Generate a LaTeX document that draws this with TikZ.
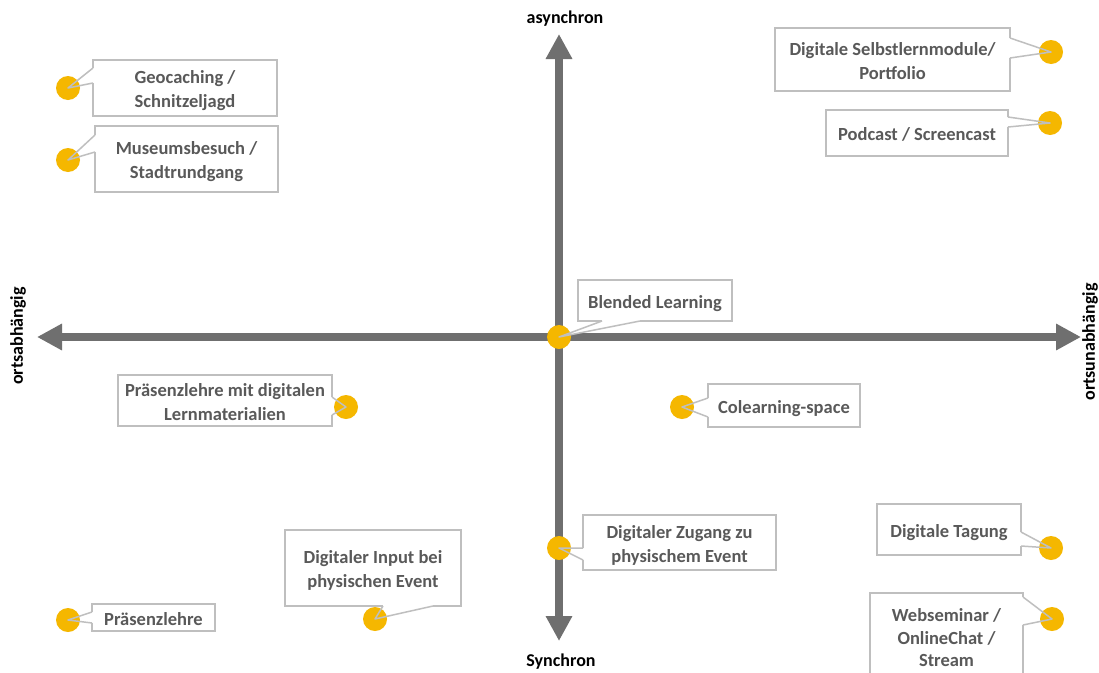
\documentclass[tikz,border=0pt]{standalone}
\usepackage{fontspec}
\setmainfont{Carlito}
\usetikzlibrary{arrows.meta,calc}
\definecolor{dotyellow}{HTML}{F5B700}
\definecolor{txtgray}{HTML}{595959}
\definecolor{bordergray}{HTML}{BFBFBF}
\definecolor{axisgray}{HTML}{6F6F6F}
\newcommand\calloutfill[3]{%
  \fill[white] (#1) -- (#3.center) -- (#2) -- cycle;
  \draw[white,line width=2.2pt] (#1) -- (#2);}
\newcommand\calloutlines[3]{%
  \draw[callline] (#1) -- (#3.center) -- (#2);}
\newcommand\bt[1]{\raisebox{-3pt}[\height][\depth]{\begin{tabular}{@{}c@{}}#1\end{tabular}}}
\begin{document}
\begin{tikzpicture}[x=1pt,y=-1pt,
  box/.style={draw=bordergray,line width=1.5pt,fill=white,inner sep=0pt,outer sep=0pt,
    align=center,text=txtgray,font=\bfseries\fontsize{18.5}{24}\selectfont},
  callline/.style={draw=bordergray,line width=1.5pt,line join=round},
  dot/.style={circle,fill=dotyellow,minimum size=24pt,inner sep=0pt},
  axis/.style={draw=axisgray,line width=8pt,{Triangle[length=25pt,width=25pt]}-{Triangle[length=25pt,width=25pt]}},
  axlabel/.style={font=\bfseries\fontsize{18}{22}\selectfont,text=black,inner sep=0pt}]
\useasboundingbox[fill=white] (0,0) rectangle (1099,672);

% axes
\coordinate (W) at (37,337);
\coordinate (E) at (1081,337);
\coordinate (N) at (559,34);
\coordinate (S) at (559,641);
\draw[axis] (W) -- (E);
\draw[axis] (N) -- (S);

\node[axlabel] (lasync) at (565,19) {asynchron};
\node[axlabel] (lsync) at (561,662) {Synchron};
\node[axlabel,rotate=90] (lab) at (18,336) {ortsabhängig};
\node[axlabel,rotate=90] (lunab) at (1090,342) {ortsunabhängig};

% boxes
\node[box,minimum width=184pt,minimum height=56pt] (geo) at (185,88) {\bt{Geocaching /\\Schnitzeljagd}};
\node[box,minimum width=183pt,minimum height=66pt] (mus) at (186.5,159) {\bt{Museumsbesuch /\\Stadtrundgang}};
\node[box,minimum width=235pt,minimum height=63pt] (selbst) at (892.5,59.5) {\bt{Digitale Selbstlernmodule/\\Portfolio}};
\node[box,minimum width=182pt,minimum height=46pt] (pod) at (917,133) {\bt{Podcast / Screencast}};
\node[box,minimum width=154pt,minimum height=41pt] (blend) at (655,300.5) {\bt{Blended Learning}};
\node[box,minimum width=214pt,minimum height=51pt] (praedig) at (225,400.5) {\bt{Präsenzlehre mit digitalen\\Lernmaterialien}};
\node[box,minimum width=152pt,minimum height=43pt] (colearn) at (784,405.5) {\bt{Colearning-space}};
\node[box,minimum width=193pt,minimum height=55pt] (zugang) at (679.5,542.5) {\bt{Digitaler Zugang zu\\physischem Event}};
\node[box,minimum width=144pt,minimum height=51pt] (tagung) at (949,529.5) {\bt{Digitale Tagung}};
\node[box,minimum width=176pt,minimum height=76pt] (input) at (373,568) {\bt{Digitaler Input bei\\physischen Event}};
\node[box,minimum width=123pt,minimum height=27pt] (praes) at (153.5,617.5) {\bt{Präsenzlehre}};
\node[box,minimum width=153pt,minimum height=87pt,font=\bfseries\fontsize{18.5}{22.5}\selectfont] (web) at (946.5,636.5) {\bt{Webseminar /\\OnlineChat /\\Stream}};

% dot positions
\coordinate (pgeo) at (68,88);
\coordinate (pmus) at (68,160);
\coordinate (pselbst) at (1051,52);
\coordinate (ppod) at (1050,123);
\coordinate (pblend) at (559,337);
\coordinate (ppraedig) at (346,407);
\coordinate (pcolearn) at (682,407);
\coordinate (pzugang) at (559,548);
\coordinate (ptagung) at (1051,548);
\coordinate (pinput) at (375,619);
\coordinate (ppraes) at (68,620);
\coordinate (pweb) at (1052,619);

% wedge fills
\calloutfill{$(geo.north west)+(0,8)$}{$(geo.north west)+(0,23)$}{pgeo}
\calloutfill{$(mus.north west)+(0,9)$}{$(mus.north west)+(0,26)$}{pmus}
\calloutfill{$(selbst.north east)+(0,10)$}{$(selbst.north east)+(0,30)$}{pselbst}
\calloutfill{$(pod.north east)+(0,7)$}{$(pod.north east)+(0,17)$}{ppod}
\calloutfill{$(blend.south west)+(24,0)$}{$(blend.south west)+(62,0)$}{pblend}
\calloutfill{$(praedig.north east)+(0,22)$}{$(praedig.north east)+(0,40)$}{ppraedig}
\calloutfill{$(colearn.north west)+(0,14)$}{$(colearn.north west)+(0,33)$}{pcolearn}
\calloutfill{$(zugang.north west)+(0,33)$}{$(zugang.north west)+(0,45)$}{pzugang}
\calloutfill{$(tagung.north east)+(0,28)$}{$(tagung.north east)+(0,42)$}{ptagung}
\calloutfill{$(input.south west)+(98,0)$}{$(input.south west)+(148,0)$}{pinput}
\calloutfill{$(praes.north west)+(0,8)$}{$(praes.north west)+(0,19)$}{ppraes}
\calloutfill{$(web.north east)+(0,4)$}{$(web.north east)+(0,32)$}{pweb}

% dots
\foreach \d in {geo,mus,selbst,pod,blend,praedig,colearn,zugang,tagung,input,praes,web}
  \node[dot] (d\d) at (p\d) {};

% wedge lines
\calloutlines{$(geo.north west)+(0,8)$}{$(geo.north west)+(0,23)$}{dgeo}
\calloutlines{$(mus.north west)+(0,9)$}{$(mus.north west)+(0,26)$}{dmus}
\calloutlines{$(selbst.north east)+(0,10)$}{$(selbst.north east)+(0,30)$}{dselbst}
\calloutlines{$(pod.north east)+(0,7)$}{$(pod.north east)+(0,17)$}{dpod}
\calloutlines{$(blend.south west)+(24,0)$}{$(blend.south west)+(62,0)$}{dblend}
\calloutlines{$(praedig.north east)+(0,22)$}{$(praedig.north east)+(0,40)$}{dpraedig}
\calloutlines{$(colearn.north west)+(0,14)$}{$(colearn.north west)+(0,33)$}{dcolearn}
\calloutlines{$(zugang.north west)+(0,33)$}{$(zugang.north west)+(0,45)$}{dzugang}
\calloutlines{$(tagung.north east)+(0,28)$}{$(tagung.north east)+(0,42)$}{dtagung}
\calloutlines{$(input.south west)+(98,0)$}{$(input.south west)+(148,0)$}{dinput}
\calloutlines{$(praes.north west)+(0,8)$}{$(praes.north west)+(0,19)$}{dpraes}
\calloutlines{$(web.north east)+(0,4)$}{$(web.north east)+(0,32)$}{dweb}
\end{tikzpicture}
\end{document}
